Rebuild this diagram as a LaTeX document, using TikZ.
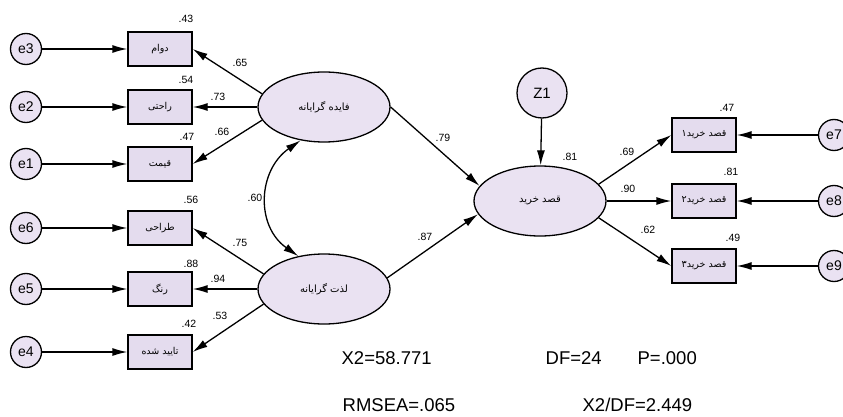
\documentclass[tikz,border=0pt]{standalone}
\usepackage{fontspec}
\setmainfont{Liberation Sans}
\newfontfamily\fa[Script=Arabic]{DejaVu Sans}
\TeXXeTstate=1
\usetikzlibrary{arrows.meta,shapes.geometric}
\definecolor{lav}{RGB}{234,226,242}
\definecolor{boxlav}{RGB}{228,220,238}
\tikzset{
  every picture/.style={line width=1.3pt},
  errc/.style={circle,draw,fill=lav,minimum size=31pt,inner sep=0pt,font=\fontsize{14}{14}\selectfont},
  obs/.style={rectangle,draw,fill=boxlav,minimum width=64pt,minimum height=34pt,inner sep=0pt,font=\fa\fontsize{9.5}{10}\selectfont},
  lat/.style={ellipse,draw,fill=lav,minimum width=132pt,minimum height=70pt,inner sep=0pt,font=\fa\fontsize{10}{11}\selectfont},
  coef/.style={font=\fontsize{10.5}{11}\selectfont,inner sep=0pt},
  fit/.style={font=\fontsize{18.5}{19}\selectfont,inner sep=0pt,anchor=west},
  arr/.style={-{Latex[length=15pt,width=8pt]}},
  darr/.style={{Latex[length=15pt,width=8pt]}-{Latex[length=15pt,width=8pt]}}
}
\begin{document}
\begin{tikzpicture}[x=1pt,y=-1pt]
\useasboundingbox (0,0) rectangle (843,417);
\fill[white] (0,0) rectangle (843,417);
% error circles left
\node[errc] (e3) at (26,49) {e3};
\node[errc] (e2) at (26,107) {e2};
\node[errc] (e1) at (26,164) {e1};
\node[errc] (e6) at (26,228) {e6};
\node[errc] (e5) at (26,289) {e5};
\node[errc] (e4) at (26,352) {e4};
% boxes left
\node[obs] (b3) at (160,49) {\beginR دوام\endR};
\node[obs] (b2) at (160,107) {\beginR راحتی\endR};
\node[obs] (b1) at (160,164) {\beginR قیمت\endR};
\node[obs] (b6) at (160,228) {\beginR طراحی\endR};
\node[obs] (b5) at (160,289) {\beginR رنگ\endR};
\node[obs] (b4) at (160,352) {\beginR تایید شده\endR};
% latents
\node[lat] (F1) at (324,107) {\beginR فایده گرایانه\endR};
\node[lat] (F2) at (324,289) {\beginR لذت گرایانه\endR};
\node[lat] (Y) at (540,201) {\beginR قصد خرید\endR};
\node[errc,minimum size=50pt,font=\fontsize{15}{15}\selectfont] (Z1) at (542,93) {Z1};
% boxes right
\node[obs] (r1) at (704,135) {\beginR قصد خرید۱\endR};
\node[obs] (r2) at (704,201) {\beginR قصد خرید۲\endR};
\node[obs] (r3) at (704,266) {\beginR قصد خرید۳\endR};
\node[errc] (e7) at (834,135) {e7};
\node[errc] (e8) at (834,201) {e8};
\node[errc] (e9) at (834,266) {e9};
% error arrows
\foreach \e/\b in {e3/b3,e2/b2,e1/b1,e6/b6,e5/b5,e4/b4}{\draw[arr] (\e) -- (\b);}
\foreach \e/\b in {e7/r1,e8/r2,e9/r3}{\draw[arr] (\e) -- (\b.east);}
% loadings
\draw[arr] (F1.168) -- (b3.east);
\draw[arr] (F1.west) -- (b2.east);
\draw[arr] (F1.192) -- (b1.east);
\draw[arr] (F2.166) -- (b6.east);
\draw[arr] (F2.west) -- (b5.east);
\draw[arr] (F2.194) -- (b4.east);
\draw[arr] (Y.16) -- (r1.west);
\draw[arr] (Y.east) -- (r2.west);
\draw[arr] (Y.344) -- (r3.west);
% structural
\draw[arr] (F1.east) -- (Y.166);
\draw[arr] (F2.10) -- (Y.192);
\draw[arr] (Z1) -- (Y);
\draw[darr] (F1.235) .. controls +(-43,30) and +(-43,-30) .. (F2.128);
% coefficients
\node[coef] (c43) at (186,19) {.43};
\node[coef] (c54) at (186,80) {.54};
\node[coef] (c47) at (187,137) {.47};
\node[coef] (c65) at (240,63) {.65};
\node[coef] (c73) at (218,97) {.73};
\node[coef] (c66) at (222,132) {.66};
\node[coef] (c56) at (191,200) {.56};
\node[coef] (c75) at (240,243) {.75};
\node[coef] (c88) at (191,264) {.88};
\node[coef] (c94) at (218,279) {.94};
\node[coef] (c42) at (189,324) {.42};
\node[coef] (c53) at (220,316) {.53};
\node[coef] (c60) at (255,198) {.60};
\node[coef] (c79) at (443,138) {.79};
\node[coef] (c87) at (425,237) {.87};
\node[coef] (c81) at (570,157) {.81};
\node[coef] (c69) at (627,152) {.69};
\node[coef] (c90) at (628,189) {.90};
\node[coef] (c62) at (648,230) {.62};
\node[coef] (r47) at (727,108) {.47};
\node[coef] (r81) at (731,172) {.81};
\node[coef] (r49) at (733,238) {.49};
% fit indices
\node[fit] (x2) at (341,358) {X2=58.771};
\node[fit] (df) at (545,358) {DF=24};
\node[fit] (pv) at (637,358) {P=.000};
\node[fit] (rm) at (342,405) {RMSEA=.065};
\node[fit] (xd) at (582,405) {X2/DF=2.449};
\end{tikzpicture}
\end{document}
